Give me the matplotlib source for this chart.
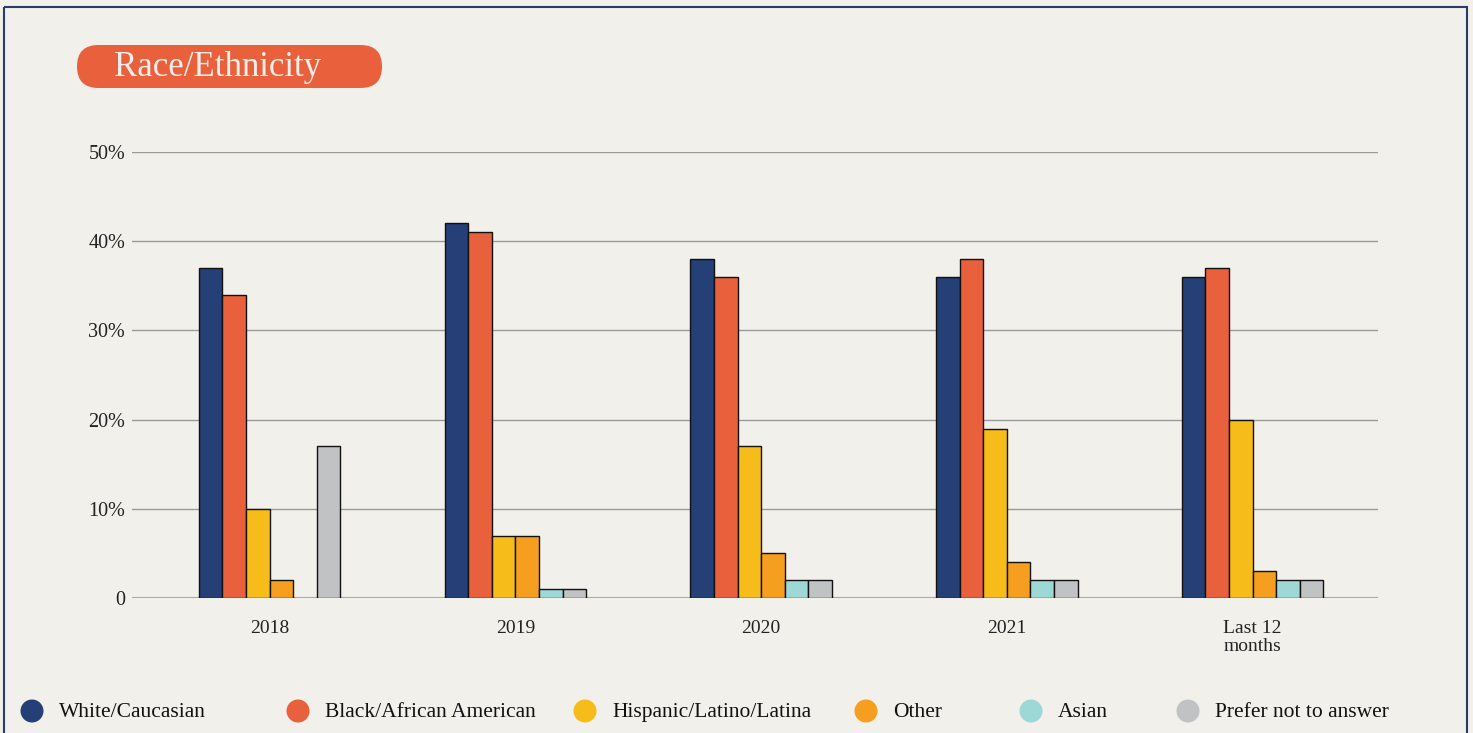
import numpy as np
import matplotlib.pyplot as plt
from matplotlib.patches import FancyBboxPatch, Rectangle, Ellipse

plt.rcParams["font.family"] = ["Liberation Serif", "DejaVu Serif"]

groups = ["2018", "2019", "2020", "2021", "Last 12\nmonths"]
series = ["White/Caucasian", "Black/African American", "Hispanic/Latino/Latina",
          "Other", "Asian", "Prefer not to answer"]
white = [37, 42, 38, 36, 36]
black = [34, 41, 36, 38, 37]
hispanic = [10, 7, 17, 19, 20]
other = [2, 7, 5, 4, 3]
asian = [0, 1, 2, 2, 2]
prefer = [17, 1, 2, 2, 2]
values = [white, black, hispanic, other, asian, prefer]
colors = ["#253F77", "#E8603C", "#F6BC19", "#F59E1F", "#9ED8D6", "#C1C2C4"]
yticks = [0, 10, 20, 30, 40, 50]
ytick_labels = ["0", "10%", "20%", "30%", "40%", "50%"]

bg = "#F1F0EB"
W, H = 1473, 733
fig = plt.figure(figsize=(W / 100, H / 100), dpi=100, facecolor=bg)

# overlay in pixel coordinates for frame, title pill and legend
ov = fig.add_axes([0, 0, 1, 1])
ov.set_xlim(0, W)
ov.set_ylim(H, 0)
ov.axis("off")
ov.add_patch(Rectangle((4, 7), 1463, 800, fill=False, edgecolor="#2B3A67",
                       linewidth=1.5))
ov.add_patch(FancyBboxPatch((77, 45), 305, 43,
                            boxstyle="round,pad=0,rounding_size=21.5",
                            facecolor="#E8603C", edgecolor="none"))
ov.text(114, 68, "Race/Ethnicity", fontsize=25, color="#F6EEE8",
        ha="left", va="center")

marker_x = [32, 298, 585, 866, 1031, 1188]
ly = 711
for mx, label, c in zip(marker_x, series, colors):
    ov.add_patch(Ellipse((mx, ly), 23, 23, facecolor=c, edgecolor="none"))
    ov.text(mx + 27, ly + 1.5, label, fontsize=15.5, color="#111111",
            ha="left", va="center")

ax = fig.add_axes([132 / W, 1 - 598 / H, (1378 - 132) / W, (598 - 152) / H])
ax.set_facecolor(bg)

x = np.arange(len(groups))
n = len(series)
width = 0.096
for i, (vals, c) in enumerate(zip(values, colors)):
    offs = (i - (n - 1) / 2) * width
    v = np.array(vals, dtype=float)
    mask = v > 0
    ax.bar(x[mask] + offs, v[mask], width=width, color=c, edgecolor="#111111",
           linewidth=1.0, zorder=3)

ax.set_xlim(-0.56, 4.51)
ax.set_ylim(0, 50)
ax.set_yticks(yticks)
ax.set_yticklabels(ytick_labels, fontsize=14.5, color="#222222")
ax.set_xticks(x)
ax.set_xticklabels(groups, fontsize=14, color="#222222", linespacing=1.05)
ax.tick_params(axis="both", length=0)
ax.tick_params(axis="y", pad=5)
ax.tick_params(axis="x", pad=16)
ax.grid(axis="y", color="#9A9A9A", linewidth=1.0, zorder=0)
ax.set_axisbelow(True)
for s in ax.spines.values():
    s.set_visible(False)
ax.axhline(0, color="#A8A8A8", linewidth=1.5, zorder=2)

fig.savefig("out.png", dpi=100, facecolor=bg)
